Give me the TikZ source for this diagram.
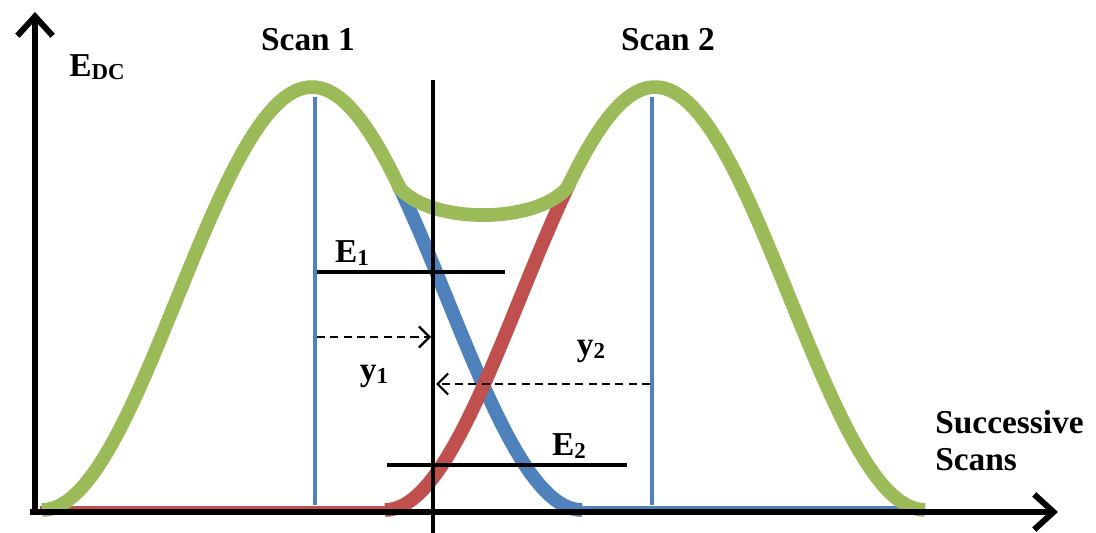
\documentclass[tikz,border=0pt]{standalone}
\usepackage{fontspec}
\setmainfont{Liberation Serif}
\usetikzlibrary{arrows.meta,positioning,calc}
\definecolor{scangreen}{HTML}{9BBB59}
\definecolor{scanblue}{HTML}{4F81BD}
\definecolor{scanred}{HTML}{C0504D}
\newcommand{\lowidx}[1]{\raisebox{-0.2ex}{\fontsize{13}{13}\selectfont #1}}

\begin{document}
\begin{tikzpicture}[x=0.02cm, y=-0.02cm,
    lbl/.style={font=\fontsize{19}{21}\selectfont\bfseries, inner sep=0pt},
    axis/.style={line width=3.4pt, -{Straight Barb[length=11pt, width=20pt]}},
    bump/.style={line width=7.8pt, line join=round},
    tail/.style={line width=1.8pt},
    marker/.style={line width=2.3pt, scanblue},
    level/.style={line width=2.8pt},
    offsetarrow/.style={line width=1.3pt, dash pattern=on 4.6pt off 3pt, -{Straight Barb[length=6pt, width=12pt]}},
]
\useasboundingbox (0,0) rectangle (1096,533);

% Axes end points
\coordinate (origin) at (35,512);
\coordinate (ytop) at (35,12);
\coordinate (xend) at (1058,512);

% Scan centres (blue markers)
\coordinate (m1top) at (315,97);
\coordinate (m1bot) at (315,505);
\coordinate (m2top) at (652,97);
\coordinate (m2bot) at (652,505);
\draw[marker] (m1top) -- (m1bot);
\draw[marker] (m2top) -- (m2bot);

% Thin tails along the base line
\draw[tail, scanred] (40,508) -- (392,508);
\draw[tail, scanblue] (575,508) -- (910,508);

% Scan 1 falling edge and Scan 2 rising edge
\draw[bump, scanblue] plot[domain=398:582, samples=40] (\x, {510-211.5*(1+cos((\x-312)*0.6667))});
\draw[bump, scanred] plot[domain=385:570, samples=40] (\x, {510-211.5*(1+cos((\x-655)*0.6667))});

% Green envelope
\draw[bump, scangreen]
  plot[domain=42:400, samples=60] (\x, {510-211.5*(1+cos((\x-312)*0.6667))})
  .. controls (432,224) and (535,224) .. (567,188)
  -- plot[domain=567:925, samples=60] (\x, {510-211.5*(1+cos((\x-655)*0.6667))});

% Levels E1 and E2
\coordinate (e1a) at (317,272);
\coordinate (e1b) at (505,272);
\coordinate (e2a) at (387,465);
\coordinate (e2b) at (627,465);
\draw[level] (e1a) -- (e1b);
\draw[level] (e2a) -- (e2b);

% Offsets y1 and y2
\coordinate (y1a) at (317,337);
\coordinate (y1b) at (431,337);
\coordinate (y2a) at (650,384);
\coordinate (y2b) at (436,384);
\draw[offsetarrow] (y1a) -- (y1b);
\draw[offsetarrow] (y2a) -- (y2b);

% Current position
\coordinate (ctop) at (433,80);
\coordinate (cbot) at (433,533);
\draw[line width=2pt] (ctop) -- (cbot);

% Axes
\draw[axis] (30,512) -- (xend);
\draw[axis] (35,515) -- (ytop);

% Labels
\node[lbl] (scan1) at (308,40) {Scan 1};
\node[lbl] (scan2) at (668,40) {Scan 2};
\node[lbl] (edc) at (97,67) {E\lowidx{DC}};
\node[lbl] (e1) at (352,253) {E\lowidx{1}};
\node[lbl] (e2) at (569,446) {E\lowidx{2}};
\node[lbl] (y1) at (374,376) {y\lowidx{1}};
\node[lbl] (y2) at (591,351) {y\lowidx{2}};
\node[lbl, align=left, anchor=west] (succ) at (935,441) {Successive\\Scans};

\end{tikzpicture}
\end{document}
